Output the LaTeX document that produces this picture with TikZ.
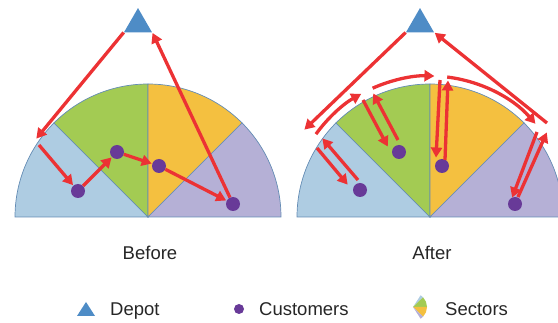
\documentclass[tikz,border=0pt]{standalone}
\usepackage{fontspec}
\setmainfont{Liberation Sans}
\usetikzlibrary{arrows.meta,calc,shapes.geometric}

\definecolor{secblue}{RGB}{174,204,226}
\definecolor{secgreen}{RGB}{163,203,83}
\definecolor{secyellow}{RGB}{244,192,64}
\definecolor{seclav}{RGB}{181,176,214}
\definecolor{secline}{RGB}{100,140,180}
\definecolor{depotblue}{RGB}{78,140,198}
\definecolor{custpurple}{RGB}{104,58,152}
\definecolor{arrred}{RGB}{236,50,52}

\tikzset{
  arr/.style={draw=arrred, line width=3.3pt, -{Triangle[length=10pt,width=11pt]}, shorten >=0.5pt},
  cust/.style={circle, fill=custpurple, minimum size=14pt, inner sep=0pt},
  depot/.style={regular polygon, regular polygon sides=3, fill=depotblue, minimum size=32.3pt, inner sep=0pt},
  lbl/.style={inner sep=0pt, font=\fontsize{18.5}{22}\selectfont, text=black!85},
  sec/.style={draw=secline, line width=0.7pt},
}

\begin{document}
\begin{tikzpicture}[x=1pt,y=-1pt]
\useasboundingbox (0,0) rectangle (558,323);
\clip (0,0) rectangle (558,323);

% semicircles with four sectors
\foreach \cx in {148,430} {
  \path[sec, fill=secblue]   (\cx,217) -- ++(180:133) arc[start angle=180,end angle=225,radius=133] -- cycle;
  \path[sec, fill=secgreen]  (\cx,217) -- ++(225:133) arc[start angle=225,end angle=270,radius=133] -- cycle;
  \path[sec, fill=secyellow] (\cx,217) -- ++(270:133) arc[start angle=270,end angle=315,radius=133] -- cycle;
  \path[sec, fill=seclav]    (\cx,217) -- ++(315:133) arc[start angle=315,end angle=360,radius=133] -- cycle;
}

% ---------- Before ----------
\node[depot] (dL) at (138,24.2) {};
\node[cust] (c1) at (78,191) {};
\node[cust] (c2) at (117,152) {};
\node[cust] (c3) at (159,166) {};
\node[cust] (c4) at (233,204) {};
\coordinate (L1) at (36,139);
\coordinate (L2) at (39,145);

\draw[arr] (dL.corner 2) -- (L1);
\draw[arr] (L2) -- (c1);
\draw[arr] (c1) -- (c2);
\draw[arr] (c2) -- (c3);
\draw[arr] (c3) -- (c4);
\draw[arr] (c4) -- (dL.corner 3);

% ---------- After ----------
\node[depot] (dR) at (420,24.2) {};
\node[cust] (b) at (360,190) {};
\node[cust] (g) at (399,152) {};
\node[cust] (y) at (442,166) {};
\node[cust] (p) at (515,204) {};
\coordinate (R0) at (430,217);

\coordinate (a1) at (304,130);
\coordinate (bd0) at (317,148); \coordinate (bd1) at (348,185);
\coordinate (bu0) at (358,180); \coordinate (bu1) at (322,138);
\coordinate (gd0) at (363,100); \coordinate (gd1) at (388,147);
\coordinate (gu0) at (398,140); \coordinate (gu1) at (373,93);
\coordinate (yd0) at (440,80);  \coordinate (yd1) at (436,158);
\coordinate (yu0) at (445,160); \coordinate (yu1) at (448,80);
\coordinate (pd0) at (537,132); \coordinate (pd1) at (512,198);
\coordinate (pu0) at (518,197); \coordinate (pu1) at (547,132);
\coordinate (ret) at (547,123);
\coordinate (arcA) at ($(R0)+(-144:141)$);
\coordinate (arcB) at ($(R0)+(-114:141)$);
\coordinate (arcC) at ($(R0)+(-83:141)$);

\draw[arr] (dR.corner 2) -- (a1);
\draw[arr] (bd0) -- (bd1);
\draw[arr] (bu0) -- (bu1);
\draw[arr] (arcA) arc[start angle=-144,end angle=-119,radius=141];
\draw[arr] (gd0) -- (gd1);
\draw[arr] (gu0) -- (gu1);
\draw[arr] (arcB) arc[start angle=-114,end angle=-88,radius=141];
\draw[arr] (yd0) -- (yd1);
\draw[arr] (yu0) -- (yu1);
\draw[arr] (arcC) arc[start angle=-83,end angle=-41,radius=140];
\draw[arr] (pd0) -- (pd1);
\draw[arr] (pu0) -- (pu1);
\draw[arr] (ret) -- (dR.corner 3);

% ---------- captions ----------
\node[lbl, anchor=base] (tb) at (150,260) {Before};
\node[lbl, anchor=base] (ta) at (432,260) {After};

% ---------- legend ----------
\fill[depotblue] (77,316) -- (86,302) -- (95,316) -- cycle;
\node[lbl, anchor=base west] (tdep) at (110,316) {Depot};
\node[circle, fill=custpurple, minimum size=10pt, inner sep=0pt] (lcust) at (239,309) {};
\node[lbl, anchor=base west] (tcus) at (259,316) {Customers};
\coordinate (ic) at (413,307);
\fill[secblue]   (ic) -- ++(-57:14) arc[start angle=-57,end angle=-44,radius=14] -- cycle;
\fill[secgreen]  (ic) -- ++(-44:14) arc[start angle=-44,end angle=0,radius=14] -- cycle;
\fill[secyellow] (ic) -- ++(0:14) arc[start angle=0,end angle=44,radius=14] -- cycle;
\fill[seclav]    (ic) -- ++(44:14) arc[start angle=44,end angle=57,radius=14] -- cycle;
\node[lbl, anchor=base west] (tsec) at (445,316) {Sectors};
\end{tikzpicture}
\end{document}
